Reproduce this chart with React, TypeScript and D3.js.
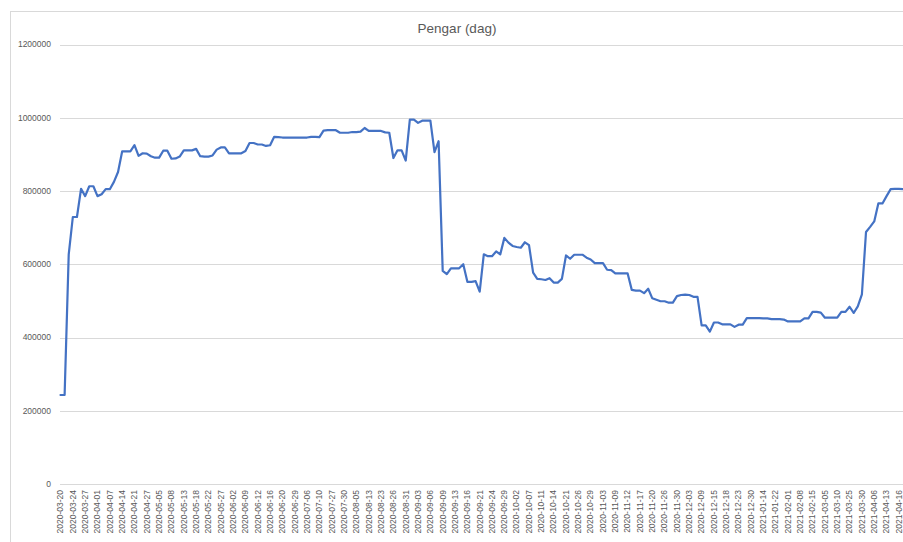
import { useEffect, useRef } from 'react';
import * as d3 from 'd3';

const TITLE = 'Pengar (dag)';

const values: number[] = [
  243000, 243000, 627000, 729000, 729000, 806000, 786000, 813000, 813000, 786000,
  791000, 805000, 805000, 825000, 852000, 908000, 908000, 908000, 925000, 896000,
  903000, 902000, 895000, 891000, 891000, 910000, 910000, 888000, 889000, 894000,
  911000, 911000, 911000, 915000, 895000, 894000, 894000, 897000, 913000, 919000,
  919000, 903000, 903000, 903000, 903000, 909000, 931000, 931000, 927000, 927000,
  923000, 925000, 948000, 947000, 946000, 946000, 946000, 946000, 946000, 946000,
  946000, 948000, 948000, 947000, 965000, 966000, 966000, 966000, 959000, 959000,
  959000, 961000, 961000, 962000, 972000, 964000, 964000, 964000, 964000, 960000,
  959000, 890000, 911000, 911000, 883000, 995000, 995000, 986000, 992000, 992000,
  992000, 906000, 936000, 582000, 573000, 589000, 589000, 589000, 600000, 552000,
  552000, 554000, 525000, 627000, 622000, 622000, 635000, 627000, 672000, 659000,
  650000, 647000, 645000, 660000, 652000, 577000, 560000, 559000, 557000, 562000,
  550000, 550000, 560000, 624000, 615000, 626000, 626000, 626000, 618000, 613000,
  603000, 603000, 603000, 585000, 584000, 575000, 575000, 575000, 575000, 530000,
  528000, 528000, 521000, 533000, 507000, 503000, 499000, 499000, 495000, 495000,
  513000, 516000, 517000, 516000, 511000, 511000, 433000, 433000, 416000, 441000,
  441000, 436000, 436000, 436000, 429000, 435000, 435000, 453000, 453000, 453000,
  453000, 452000, 452000, 450000, 450000, 450000, 449000, 444000, 444000, 444000,
  444000, 452000, 452000, 470000, 470000, 468000, 454000, 454000, 454000, 454000,
  470000, 470000, 484000, 467000, 485000, 518000, 688000, 702000, 717000, 766000,
  766000, 786000, 805000, 806000, 806000, 805000,
];

// category labels shown on the axis (every third day)
const tickLabels: string[] = [
  '2020-03-20', '2020-03-24', '2020-03-27', '2020-04-01', '2020-04-07', '2020-04-14',
  '2020-04-21', '2020-04-27', '2020-05-05', '2020-05-08', '2020-05-13', '2020-05-18',
  '2020-05-22', '2020-05-27', '2020-06-02', '2020-06-09', '2020-06-12', '2020-06-16',
  '2020-06-20', '2020-06-29', '2020-07-06', '2020-07-10', '2020-07-27', '2020-07-30',
  '2020-08-05', '2020-08-13', '2020-08-23', '2020-08-26', '2020-08-31', '2020-09-03',
  '2020-09-06', '2020-09-09', '2020-09-13', '2020-09-16', '2020-09-21', '2020-09-24',
  '2020-09-29', '2020-10-02', '2020-10-07', '2020-10-11', '2020-10-14', '2020-10-21',
  '2020-10-26', '2020-10-29', '2020-11-03', '2020-11-09', '2020-11-12', '2020-11-17',
  '2020-11-20', '2020-11-26', '2020-11-30', '2020-12-03', '2020-12-09', '2020-12-15',
  '2020-12-18', '2020-12-23', '2020-12-30', '2021-01-14', '2021-01-22', '2021-02-01',
  '2021-02-08', '2021-02-15', '2021-03-05', '2021-03-10', '2021-03-25', '2021-03-30',
  '2021-04-06', '2021-04-13', '2021-04-16',
];
const LABEL_STEP = 3;

const yTicks = [0, 200000, 400000, 600000, 800000, 1000000, 1200000];

export default function App() {
  const svgRef = useRef<SVGSVGElement>(null);

  useEffect(() => {
    const svg = d3.select(svgRef.current);
    svg.selectAll('*').remove();

    const width = 903;
    const height = 542;
    const font = '"Liberation Sans", Arial, sans-serif';
    const textColor = '#595959';
    const gridColor = '#D9D9D9';

    svg.append('rect').attr('width', width).attr('height', height).attr('fill', '#fff');

    // chart area border (continues past the picture on right and bottom)
    svg.append('rect')
      .attr('x', 10.5).attr('y', 11.5)
      .attr('width', 1000).attr('height', 1000)
      .attr('fill', 'none').attr('stroke', gridColor);

    const idx = d3.range(values.length);
    const x = d3.scalePoint<number>().domain(idx).range([60.5, 903]);
    const y = d3.scaleLinear().domain([0, 1200000]).range([484, 44.5]);

    svg.append('text')
      .attr('x', 457).attr('y', 33)
      .attr('text-anchor', 'middle')
      .attr('font-family', font).attr('font-size', 13.5)
      .attr('fill', textColor)
      .text(TITLE);

    svg.append('g')
      .selectAll('line')
      .data(yTicks)
      .join('line')
      .attr('x1', 60).attr('x2', width)
      .attr('y1', d => Math.round(y(d)) + 0.5)
      .attr('y2', d => Math.round(y(d)) + 0.5)
      .attr('stroke', gridColor)
      .attr('stroke-width', 1);

    svg.append('g')
      .selectAll('text')
      .data(yTicks)
      .join('text')
      .attr('x', 51)
      .attr('y', d => y(d))
      .attr('dy', '0.35em')
      .attr('text-anchor', 'end')
      .attr('font-family', font).attr('font-size', 8.5)
      .attr('fill', textColor)
      .text(d => String(d));

    svg.append('g')
      .selectAll('text')
      .data(tickLabels)
      .join('text')
      .attr('transform', (_, i) => `translate(${x(i * LABEL_STEP)}, 490) rotate(-90)`)
      .attr('dy', '0.33em')
      .attr('text-anchor', 'end')
      .attr('font-family', font).attr('font-size', 8.5)
      .attr('fill', textColor)
      .text(d => d);

    const line = d3.line<number>()
      .x((_, i) => x(i) as number)
      .y(d => y(d));

    svg.append('path')
      .datum(values)
      .attr('d', line)
      .attr('fill', 'none')
      .attr('stroke', '#4472C4')
      .attr('stroke-width', 2.2)
      .attr('stroke-linejoin', 'round')
      .attr('stroke-linecap', 'round');
  }, []);

  return (
    <svg
      ref={svgRef}
      width={903}
      height={542}
      style={{ position: 'absolute', left: 0, top: 0, display: 'block' }}
    />
  );
}
